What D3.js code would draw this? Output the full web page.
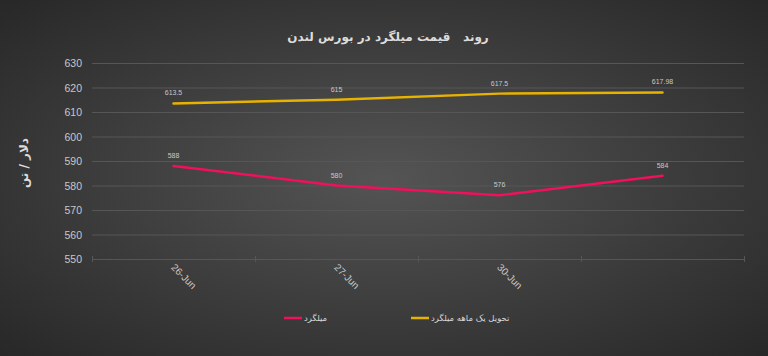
<!DOCTYPE html>
<html>
<head>
<meta charset="utf-8">
<script src="https://cdn.jsdelivr.net/npm/d3@7"></script>
<style>
  body { margin: 0; background: #2b2b2b; }
  svg { display: block; }
</style>
</head>
<body>
<div id="body"></div>
<script>
  // chart data
  var categories = ["26-Jun", "27-Jun", "30-Jun", ""];
  var rebarValues = [588, 580, 576, 584];
  var rebarLabels = ["588", "580", "576", "584"];
  var monthValues = [613.5, 615, 617.5, 617.98];
  var monthLabels = ["613.5", "615", "617.5", "617.98"];
  var yTicks = [550, 560, 570, 580, 590, 600, 610, 620, 630];
  var seriesNames = ["میلگرد", "تحویل یک ماهه میلگرد"];

  var width = 768;
  var height = 356;
  var font = "Liberation Sans, Arial, sans-serif";
  var rebarColor = "#f0105c";
  var monthColor = "#e8b200";
  var textColor = "#c8c8c8";
  var gridColor = "#565656";

  var svg = d3.select("#body").append("svg")
    .attr("width", width)
    .attr("height", height);

  var defs = svg.append("defs");
  var grad = defs.append("radialGradient")
    .attr("id", "bg")
    .attr("cx", "50%").attr("cy", "50%").attr("r", "70%");
  grad.append("stop").attr("offset", "0%").attr("stop-color", "#545454");
  grad.append("stop").attr("offset", "100%").attr("stop-color", "#282828");

  svg.append("rect")
    .attr("width", width)
    .attr("height", height)
    .attr("fill", "url(#bg)");

  var x = d3.scaleBand().domain(d3.range(categories.length)).range([92, 744]);
  var y = d3.scaleLinear().domain([550, 630]).range([259, 63]);

  // gridlines
  svg.append("g")
    .selectAll("line")
    .data(yTicks)
    .enter()
    .append("line")
    .attr("x1", 92)
    .attr("x2", 744)
    .attr("y1", function (d) { return y(d) + 0.5; })
    .attr("y2", function (d) { return y(d) + 0.5; })
    .attr("stroke", gridColor)
    .attr("stroke-width", 1);

  // x axis tick marks at band edges
  var edges = d3.range(categories.length + 1).map(function (i) {
    return i < categories.length ? x(i) : x(categories.length - 1) + x.bandwidth();
  });
  svg.append("g")
    .selectAll("line")
    .data(edges)
    .enter()
    .append("line")
    .attr("x1", function (d) { return Math.round(d) + 0.5; })
    .attr("x2", function (d) { return Math.round(d) + 0.5; })
    .attr("y1", y(550) - 3)
    .attr("y2", y(550) + 3)
    .attr("stroke", gridColor);

  // y tick labels
  svg.append("g")
    .selectAll("text")
    .data(yTicks)
    .enter()
    .append("text")
    .attr("x", 82)
    .attr("y", function (d) { return y(d) + 4; })
    .attr("text-anchor", "end")
    .attr("font-size", 10.5)
    .style("font-family", font)
    .attr("fill", textColor)
    .text(function (d) { return d; });

  // x tick labels, rotated
  svg.append("g")
    .selectAll("text")
    .data(categories)
    .enter()
    .append("text")
    .attr("transform", function (d, i) {
      var cx = x(i) + x.bandwidth() / 2 - 3;
      return "translate(" + cx + ",268) rotate(45)";
    })
    .attr("text-anchor", "start")
    .attr("font-size", 10)
    .style("font-family", font)
    .attr("fill", textColor)
    .text(function (d) { return d; });

  var line = d3.line()
    .x(function (d, i) { return x(i) + x.bandwidth() / 2; })
    .y(function (d) { return y(d); });

  function drawSeries(values, labels, color) {
    svg.append("path")
      .datum(values)
      .attr("d", line)
      .attr("fill", "none")
      .attr("stroke", color)
      .attr("stroke-width", 2.5)
      .attr("stroke-linejoin", "round")
      .attr("stroke-linecap", "round");

    svg.append("g")
      .selectAll("text")
      .data(values)
      .enter()
      .append("text")
      .attr("x", function (d, i) { return x(i) + x.bandwidth() / 2; })
      .attr("y", function (d) { return y(d) - 8; })
      .attr("text-anchor", "middle")
      .attr("font-size", 7)
      .style("font-family", font)
      .attr("fill", textColor)
      .text(function (d, i) { return labels[i]; });
  }

  drawSeries(monthValues, monthLabels, monthColor);
  drawSeries(rebarValues, rebarLabels, rebarColor);

  // title (keep the double space)
  svg.append("text")
    .attr("x", 388)
    .attr("y", 41)
    .attr("text-anchor", "middle")
    .attr("font-size", 12)
    .attr("font-weight", "bold")
    .style("font-family", "DejaVu Sans, sans-serif")
    .style("white-space", "pre")
    .attr("fill", "#dcdcdc")
    .text("روند   قیمت میلگرد در بورس لندن");

  // y axis title
  svg.append("text")
    .attr("transform", "translate(28,163) rotate(-90)")
    .attr("text-anchor", "middle")
    .attr("font-size", 12)
    .attr("font-weight", "bold")
    .style("font-family", "DejaVu Sans, sans-serif")
    .attr("fill", "#dcdcdc")
    .text("دلار / تن");

  // legend
  var legendItems = [
    { name: seriesNames[0], color: rebarColor, x: 284 },
    { name: seriesNames[1], color: monthColor, x: 411 }
  ];
  var legend = svg.append("g");
  legend.selectAll("line")
    .data(legendItems)
    .enter()
    .append("line")
    .attr("x1", function (d) { return d.x; })
    .attr("x2", function (d) { return d.x + 18; })
    .attr("y1", 318)
    .attr("y2", 318)
    .attr("stroke", function (d) { return d.color; })
    .attr("stroke-width", 2.5);
  legend.selectAll("text")
    .data(legendItems)
    .enter()
    .append("text")
    .attr("x", function (d) { return d.x + 20; })
    .attr("y", 321)
    .attr("text-anchor", "start")
    .attr("direction", "ltr")
    .attr("font-size", 8.5)
    .style("font-family", "DejaVu Sans, sans-serif")
    .attr("fill", "#d8d8d8")
    .text(function (d) { return d.name; });
</script>
</body>
</html>
